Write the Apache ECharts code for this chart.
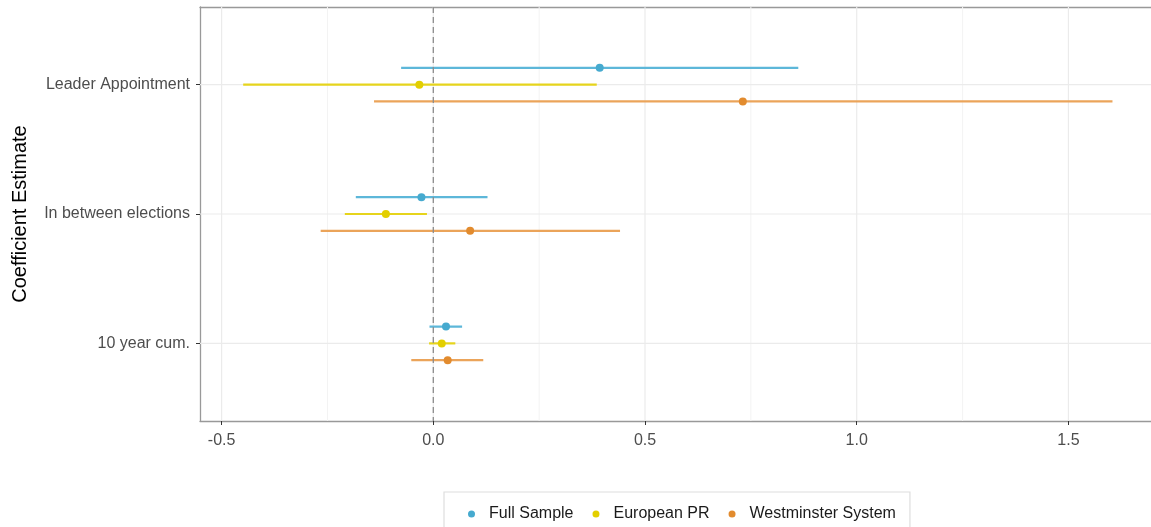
<!DOCTYPE html>
<html>
<head>
<meta charset="utf-8">
<script src="https://cdn.jsdelivr.net/npm/echarts@6/dist/echarts.min.js"></script>
<style>
html,body{margin:0;padding:0;background:#fff;}
#chart{width:1151px;height:527px;}
</style>
</head>
<body>
<div id="chart"></div>
<script>
// Categories (bottom to top, as positions 1..3)
var categories = ['10 year cum.', 'In between elections', 'Leader Appointment'];
var seriesNames = ['Full Sample', 'European PR', 'Westminster System'];
var xTicks = [-0.5, 0, 0.5, 1.0, 1.5];
var xMinorTicks = [-0.25, 0.25, 0.75, 1.25];

// Estimates and 95% intervals, ordered as categories
var fullEst  = [0.030, -0.028, 0.393];
var fullLo   = [-0.009, -0.183, -0.076];
var fullHi   = [0.068, 0.128, 0.862];

var euroEst  = [0.020, -0.112, -0.033];
var euroLo   = [-0.010, -0.209, -0.449];
var euroHi   = [0.052, -0.015, 0.386];

var westEst  = [0.034, 0.087, 0.731];
var westLo   = [-0.052, -0.266, -0.140];
var westHi   = [0.118, 0.441, 1.604];

var pointColors = ['#46aacf', '#e3cf00', '#e28b2e'];
var lineColors  = ['#5db7d9', '#e6d41c', '#eba45a'];
var dodge = [0.13, 0, -0.13];

var ests = [fullEst, euroEst, westEst];
var los  = [fullLo, euroLo, westLo];
var his  = [fullHi, euroHi, westHi];

var FONT = '"Liberation Sans", Arial, sans-serif';
var X_MIN = -0.551, X_MAX = 1.695;

// gridline specs: [orientation (0 = vertical at x, 1 = horizontal at y), value, major flag]
var gridData = []
  .concat(xMinorTicks.map(function(v){ return [0, v, 0]; }))
  .concat(xTicks.map(function(v){ return [0, v, 1]; }))
  .concat(categories.map(function(c, i){ return [1, i + 1, 1]; }));

function guideRenderer(kind){
  return function(params, api){
    var cs = params.coordSys;
    var o = api.value(0), v = api.value(1), major = api.value(2);
    var shape, style;
    if (o === 0) {
      var px = api.coord([v, 2])[0];
      shape = {x1: px, y1: cs.y, x2: px, y2: cs.y + cs.height};
    } else {
      var py = api.coord([0, v])[1];
      shape = {x1: cs.x, y1: py, x2: cs.x + cs.width, y2: py};
    }
    if (kind === 'zero') {
      style = {stroke: '#8c8c8c', lineWidth: 1.3, lineDash: [6, 4]};
    } else {
      style = {stroke: major ? '#ebebeb' : '#f3f3f3', lineWidth: major ? 1.2 : 1};
    }
    return {type: 'line', shape: shape, style: style, silent: true};
  };
}

var series = [];
series.push({
  type: 'custom', silent: true, z: 1, data: gridData,
  encode: {x: -1, y: -1},
  renderItem: guideRenderer('grid')
});
series.push({
  type: 'custom', silent: true, z: 5, data: [[0, 0, 1]],
  encode: {x: -1, y: -1},
  renderItem: guideRenderer('zero')
});

seriesNames.forEach(function(name, s){
  var barData = categories.map(function(c, i){ return [i + 1 + dodge[s], los[s][i], his[s][i]]; });
  var ptData  = categories.map(function(c, i){ return [ests[s][i], i + 1 + dodge[s]]; });
  series.push({
    name: name, type: 'custom', z: 3,
    encode: {x: [1, 2], y: 0},
    data: barData,
    renderItem: (function(col){
      return function(params, api){
        var y = api.value(0);
        var p1 = api.coord([api.value(1), y]);
        var p2 = api.coord([api.value(2), y]);
        return {type: 'line', shape: {x1: p1[0], y1: p1[1], x2: p2[0], y2: p2[1]},
                style: {stroke: col, lineWidth: 2.2}};
      };
    })(lineColors[s]),
    itemStyle: {color: pointColors[s]}
  });
  series.push({
    name: name, type: 'scatter', z: 6,
    symbol: 'circle', symbolSize: 8,
    itemStyle: {color: pointColors[s], opacity: 1},
    data: ptData
  });
});

var chart = echarts.init(document.getElementById('chart'), null, {renderer: 'canvas'});
chart.setOption({
  animation: false,
  backgroundColor: '#fff',
  textStyle: {fontFamily: FONT},
  grid: {left: 200, right: 0, top: 7, bottom: 106, show: false},
  xAxis: [{
    type: 'value', min: X_MIN, max: X_MAX, position: 'bottom',
    axisLine: {show: true, onZero: false, lineStyle: {color: '#999999', width: 1.3}},
    axisTick: {show: true, length: 4, customValues: xTicks, lineStyle: {color: '#333'}},
    axisLabel: {customValues: xTicks, color: '#4d4d4d', fontSize: 16, margin: 12, fontFamily: FONT,
      formatter: function(v){ return v.toFixed(1); }},
    splitLine: {show: false}
  }, {
    type: 'value', min: X_MIN, max: X_MAX, position: 'top',
    axisLine: {show: true, onZero: false, lineStyle: {color: '#999999', width: 1.3}},
    axisTick: {show: false}, axisLabel: {show: false}, splitLine: {show: false}
  }],
  yAxis: {
    type: 'value', min: 0.4, max: 3.6, position: 'left',
    name: 'Coefficient Estimate', nameLocation: 'middle', nameGap: 170,
    nameTextStyle: {color: '#000', fontSize: 20, fontFamily: FONT},
    axisLine: {show: true, onZero: false, lineStyle: {color: '#999999', width: 1.3}},
    axisTick: {show: true, length: 4, customValues: [1, 2, 3], lineStyle: {color: '#333'}},
    axisLabel: {customValues: [1, 2, 3], color: '#4d4d4d', fontSize: 16, margin: 10, fontFamily: FONT,
      formatter: function(v){ return categories[Math.round(v) - 1] || ''; }},
    splitLine: {show: false}
  },
  legend: {
    show: true, left: 444, top: 492,
    data: seriesNames.map(function(n, s){ return {name: n, icon: 'circle', itemStyle: {color: pointColors[s]}}; }),
    itemWidth: 7, itemHeight: 7, itemGap: 19,
    padding: [14, 14, 30, 24],
    borderColor: '#dedede', borderWidth: 1.2, backgroundColor: '#fff',
    textStyle: {color: '#1a1a1a', fontSize: 16, fontFamily: FONT, padding: [0, 0, 0, 9]},
    selectedMode: false
  },
  series: series
});
</script>
</body>
</html>
